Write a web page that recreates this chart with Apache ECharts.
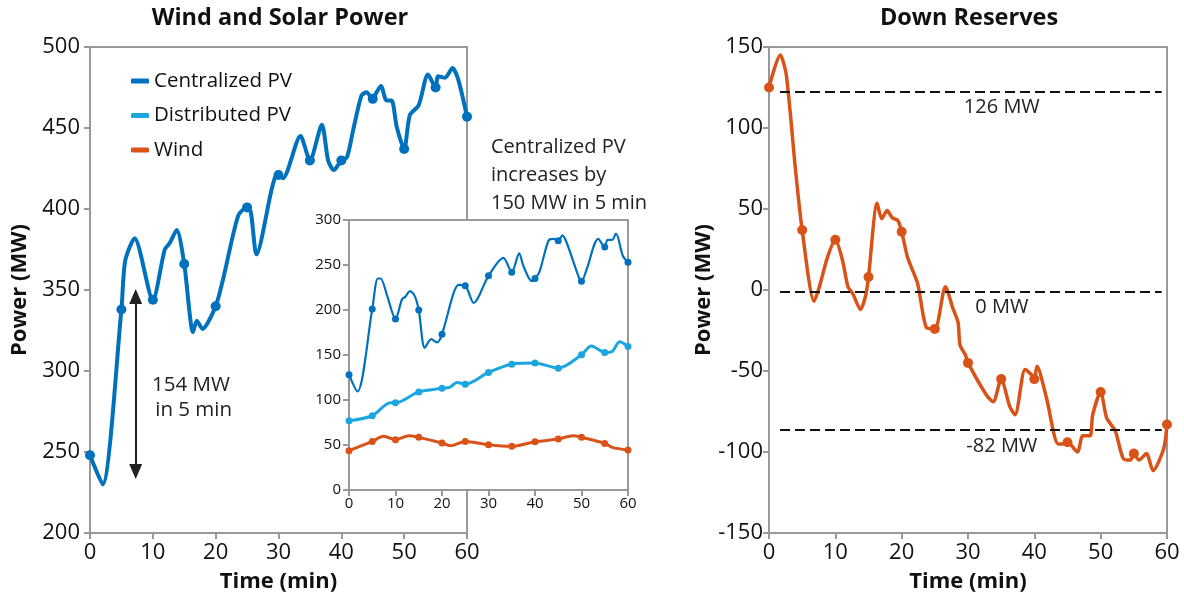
<!DOCTYPE html>
<html>
<head>
<meta charset="utf-8">
<script src="https://cdn.jsdelivr.net/npm/echarts@6/dist/echarts.min.js"></script>
<style>html,body{margin:0;padding:0;background:#fff}#c{width:1184px;height:600px}</style>
</head>
<body>
<div id="c"></div>
<script>
// ---- data ----
const totalT = [0,2,5,5.6,7.1,10,11.9,12.7,13.8,15,16.4,17,17.9,20,21.2,23.6,25,25.6,26.5,28.9,29.5,30,30.7,33.5,35,36.9,37.9,38.8,40,40.9,41.9,43.2,44,45,45.6,46.3,47.2,48,48.8,50,50.9,52.3,53.8,55,55.4,56.5,57.7,58.6,60];
const totalV = [248,230,338,368,382,344,375,379,387,366,324,331,326,340,357,396,401,398,372,412,420,421,419,445,430,452,430,424,430,432,449,470,472,468,472,476,467,467,451,437,458,464,483,475,482,481,487,480,457];

const cpvT = [0,1.8,5,6.2,6.8,8.2,10,11.4,12.1,13.1,14.1,15,16.3,17.7,18.9,20,22.5,23.6,25,26.8,30,33.2,35,36.6,37.5,39.3,40,41,42.9,44,45,45.9,46.8,49.6,50,51.1,53.6,55,55.6,56.6,57.4,58.9,60];
const cpvV = [128,109.5,201,235,235,216,190,212,214.6,221,216,200,158,167.6,164,173,219,228,227,208,238,258,242,263,249,232,235,243,277,279,277,283,275,234,232,245,279,270,278,278,285,260,253];

const dpvT = [0,5,8.9,10,15,20,21.6,23.2,25,30,35,40,45,50,52.1,55,56.6,58.2,60];
const dpvV = [77,82.5,97,97,109,113,114,119.5,117.6,130.6,139.8,141,135.4,150.2,160,152.8,154,164.6,159.5];

const windT = [0,5,7.5,10,12.9,15,20,21.8,25,30,35,40,45,48.2,50,55,56.6,60];
const windV = [43.7,54,59.6,55.9,60.3,58.5,52.2,49.2,54,50.3,48.5,53.6,56.6,60.3,58.5,51.8,47.4,44.4];

const resT = [0,1.7,2.6,4,5,6.8,7.6,8.8,10,11.1,11.9,12.6,13.8,14.6,15,16.3,17,17.8,18.6,19.4,20,20.9,22.4,23.7,25,26.6,27.7,28.5,28.8,29.6,30,32.8,33.8,35,36.3,37.1,38.6,39.5,40,40.4,41.8,43.6,44.4,45,46.5,47.3,48.4,48.8,50,50.9,52.2,53.4,54.5,55,55.8,56.9,57.9,59.5,60];
const resV = [125,145,133,74,37,-7,2,20,31,18,2,-2,-12,-3,8,53.5,44,49,44.5,43,36,20,4,-23,-24,2,-11,-20,-34,-40,-45,-65,-69,-55,-72,-77,-49,-52,-55,-47,-66,-95,-95,-94,-100,-90,-90,-77,-63,-79,-87,-104,-105,-101,-105,-101,-111.5,-98,-83];

const reserveLevels = [122.4, -1, -86.4];
const reserveLabels = ['126 MW', '0 MW', '-82 MW'];
const reserveSpan = [1.66, 59.2];

const rampArrow = {t: 7.27, from: 346, to: 238};

const xTicks = {min: 0, max: 60, interval: 10};

const cBlue = '#0072BD', cLight = '#1BA6E0', cOrange = '#D95319';
const FONT = 'Open Sans';
const AX = '#999';

const zip = (t, v) => t.map((x, i) => [x, v[i]]);
const markSym = (v) => (Math.abs(v[0] % 5) < 1e-9 ? 'circle' : 'none');

function xAx(grid, fs, margin, name, z) {
  return {
    type: 'value', gridIndex: grid, min: xTicks.min, max: xTicks.max, interval: xTicks.interval, z: z || 0,
    name: name, nameLocation: 'middle', nameGap: 38,
    nameTextStyle: {fontFamily: FONT, fontWeight: 'bold', fontSize: 22, color: '#111'},
    axisLine: {show: true, onZero: false, lineStyle: {color: AX, width: 2}},
    axisTick: {show: true, length: 6, lineStyle: {color: AX, width: 2}},
    axisLabel: {fontFamily: FONT, fontSize: fs, color: '#111', margin: margin},
    splitLine: {show: false}
  };
}
function yAx(grid, min, max, iv, fs, margin, name, gap, z) {
  return {
    type: 'value', gridIndex: grid, min: min, max: max, interval: iv, z: z || 0,
    name: name, nameLocation: 'middle', nameGap: gap, nameRotate: 90,
    nameTextStyle: {fontFamily: FONT, fontWeight: 'bold', fontSize: 22, color: '#111'},
    axisLine: {show: true, onZero: false, lineStyle: {color: AX, width: 2}},
    axisTick: {show: true, length: 6, lineStyle: {color: AX, width: 2}},
    axisLabel: {fontFamily: FONT, fontSize: fs, color: '#111', margin: margin},
    splitLine: {show: false}
  };
}

const chart = echarts.init(document.getElementById('c'), null, {renderer: 'canvas'});
const option = {
  animation: false,
  backgroundColor: '#fff',
  title: [
    {text: 'Wind and Solar Power', left: 280, top: 6, textAlign: 'center', padding: 0,
     textStyle: {fontFamily: FONT, fontWeight: 'bold', fontSize: 23.5, color: '#111'}},
    {text: 'Down Reserves', left: 969, top: 6, textAlign: 'center', padding: 0,
     textStyle: {fontFamily: FONT, fontWeight: 'bold', fontSize: 23.5, color: '#111'}}
  ],
  legend: {
    data: ['Centralized PV', 'Distributed PV', 'Wind'],
    orient: 'vertical', left: 131, top: 70, padding: 0, itemGap: 12.5,
    icon: 'roundRect', itemWidth: 18, itemHeight: 5,
    textStyle: {fontFamily: FONT, fontSize: 20.5, color: '#111', lineHeight: 22}
  },
  grid: [
    {left: 90, top: 47, right: 717, bottom: 67, show: true, borderColor: AX, borderWidth: 2, z: 0},
    {left: 349, top: 220, right: 556, bottom: 110, show: true, backgroundColor: '#fff', borderColor: AX, borderWidth: 2, z: 5},
    {left: 769, top: 47, right: 17, bottom: 67, show: true, borderColor: AX, borderWidth: 2, z: 0}
  ],
  xAxis: [
    xAx(0, 22, 9, 'Time (min)'),
    xAx(1, 15, 6, '', 6),
    xAx(2, 22, 9, 'Time (min)')
  ],
  yAxis: [
    yAx(0, 200, 500, 50, 22, 10, 'Power (MW)', 59),
    yAx(1, 0, 300, 50, 15, 8, '', 0, 6),
    yAx(2, -150, 150, 50, 22, 6, 'Power (MW)', 42)
  ],
  series: [
    {
      name: 'Total', type: 'line', xAxisIndex: 0, yAxisIndex: 0, z: 2,
      data: zip(totalT, totalV), smooth: 0.25,
      symbol: markSym, symbolSize: 10, showSymbol: true, showAllSymbol: true,
      lineStyle: {color: cBlue, width: 4}, itemStyle: {color: cBlue},
      markLine: {
        silent: true, symbol: ['triangle', 'triangle'], symbolSize: [13, 15],
        lineStyle: {color: '#222', width: 2, type: 'solid'}, label: {show: false},
        data: [[{coord: [rampArrow.t, rampArrow.from]}, {coord: [rampArrow.t, rampArrow.to]}]]
      }
    },
    {
      name: 'Centralized PV', type: 'line', xAxisIndex: 1, yAxisIndex: 1, z: 7,
      data: zip(cpvT, cpvV), smooth: 0.3,
      symbol: markSym, symbolSize: 7, showSymbol: true, showAllSymbol: true,
      lineStyle: {color: cBlue, width: 2.2}, itemStyle: {color: cBlue}
    },
    {
      name: 'Distributed PV', type: 'line', xAxisIndex: 1, yAxisIndex: 1, z: 7,
      data: zip(dpvT, dpvV), smooth: 0.3,
      symbol: markSym, symbolSize: 7, showSymbol: true, showAllSymbol: true,
      lineStyle: {color: cLight, width: 3}, itemStyle: {color: cLight}
    },
    {
      name: 'Wind', type: 'line', xAxisIndex: 1, yAxisIndex: 1, z: 7,
      data: zip(windT, windV), smooth: 0.3,
      symbol: markSym, symbolSize: 7, showSymbol: true, showAllSymbol: true,
      lineStyle: {color: cOrange, width: 3}, itemStyle: {color: cOrange}
    },
    {
      name: 'Down Reserves', type: 'line', xAxisIndex: 2, yAxisIndex: 2, z: 3,
      data: zip(resT, resV), smooth: 0.25,
      symbol: markSym, symbolSize: 10, showSymbol: true, showAllSymbol: true,
      lineStyle: {color: cOrange, width: 3.5}, itemStyle: {color: cOrange},
      markLine: {
        silent: true, symbol: ['none', 'none'],
        lineStyle: {color: '#111', width: 2.2, type: [10, 5]},
        label: {show: true, position: 'insideMiddleBottom', distance: 6, offset: [31, 0],
                fontFamily: FONT, fontSize: 20, color: '#222'},
        data: reserveLevels.map((lv, i) => [
          {coord: [reserveSpan[0], lv], label: {formatter: reserveLabels[i]}},
          {coord: [reserveSpan[1], lv]}
        ])
      }
    }
  ],
  graphic: [
    {type: 'text', x: 191, y: 373, z: 10,
     style: {text: '154 MW\n in 5 min', align: 'center', verticalAlign: 'top', lineHeight: 25,
             fontFamily: FONT, fontSize: 20.5, fill: '#222'}},
    {type: 'text', x: 491, y: 133, z: 10,
     style: {text: 'Centralized PV\nincreases by\n150 MW in 5 min', align: 'left', verticalAlign: 'top', lineHeight: 28,
             fontFamily: FONT, fontSize: 20, fill: '#222'}}
  ]
};
chart.setOption(option);
</script>
</body>
</html>
